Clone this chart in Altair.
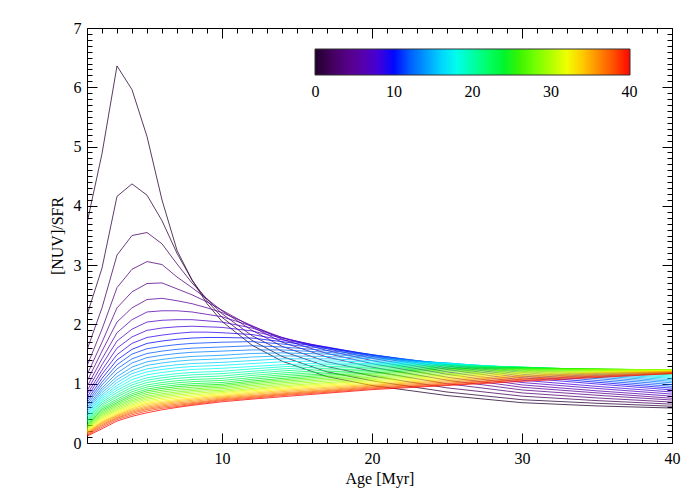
import altair as alt
import pandas as pd

ages = [1, 2, 3, 4, 5, 6, 7, 8, 9, 10, 12, 14, 17, 20, 25, 30, 35, 40]
# Curve parameter (colour-bar value), 0 ... 40
params = list(range(41))

# [NUV]/SFR for parameters 0..40, one list per age
age_01 = [3.71, 2.16, 1.57, 1.30, 1.15, 1.04, 0.95, 0.88, 0.82, 0.77, 0.72,
          0.68, 0.64, 0.60, 0.57, 0.54, 0.51, 0.48, 0.455, 0.43, 0.41,
          0.39, 0.37, 0.35, 0.33, 0.31, 0.295, 0.28, 0.265, 0.25, 0.24,
          0.225, 0.21, 0.20, 0.19, 0.175, 0.165, 0.155, 0.14, 0.13, 0.115]
age_02 = [4.88, 2.95, 2.28, 1.92, 1.70, 1.55, 1.42, 1.32, 1.23, 1.16, 1.09,
          1.03, 0.98, 0.93, 0.89, 0.85, 0.81, 0.78, 0.75, 0.72, 0.69,
          0.66, 0.63, 0.60, 0.575, 0.55, 0.525, 0.50, 0.48, 0.46, 0.44,
          0.42, 0.40, 0.38, 0.36, 0.345, 0.33, 0.31, 0.29, 0.265, 0.24]
age_03 = [6.36, 4.16, 3.17, 2.62, 2.28, 2.04, 1.86, 1.72, 1.60, 1.49, 1.40,
          1.32, 1.25, 1.18, 1.12, 1.07, 1.02, 0.97, 0.93, 0.89, 0.85,
          0.81, 0.78, 0.74, 0.71, 0.68, 0.655, 0.63, 0.605, 0.58, 0.56,
          0.54, 0.52, 0.50, 0.48, 0.465, 0.45, 0.43, 0.415, 0.395, 0.37]
age_04 = [5.96, 4.37, 3.50, 2.93, 2.55, 2.28, 2.08, 1.92, 1.79, 1.68, 1.58,
          1.50, 1.42, 1.35, 1.28, 1.22, 1.17, 1.12, 1.07, 1.02, 0.98,
          0.94, 0.90, 0.865, 0.83, 0.80, 0.77, 0.74, 0.715, 0.69, 0.665,
          0.64, 0.62, 0.60, 0.58, 0.56, 0.54, 0.52, 0.50, 0.475, 0.45]
age_05 = [5.17, 4.18, 3.55, 3.06, 2.69, 2.42, 2.21, 2.04, 1.90, 1.78, 1.68,
          1.59, 1.51, 1.44, 1.37, 1.31, 1.25, 1.20, 1.15, 1.10, 1.06,
          1.02, 0.98, 0.945, 0.91, 0.88, 0.85, 0.82, 0.79, 0.765, 0.74,
          0.715, 0.69, 0.67, 0.65, 0.625, 0.605, 0.585, 0.565, 0.54, 0.51]
age_06 = [4.10, 3.75, 3.36, 3.01, 2.70, 2.44, 2.23, 2.07, 1.94, 1.82, 1.72,
          1.63, 1.55, 1.48, 1.41, 1.35, 1.29, 1.24, 1.19, 1.14, 1.10,
          1.06, 1.02, 0.985, 0.95, 0.92, 0.89, 0.86, 0.83, 0.805, 0.78,
          0.755, 0.73, 0.705, 0.685, 0.665, 0.645, 0.625, 0.605, 0.585, 0.56]
age_07 = [3.25, 3.20, 3.02, 2.80, 2.60, 2.40, 2.23, 2.08, 1.96, 1.85, 1.75,
          1.66, 1.58, 1.51, 1.44, 1.38, 1.32, 1.27, 1.22, 1.17, 1.13,
          1.09, 1.05, 1.015, 0.98, 0.95, 0.92, 0.89, 0.86, 0.835, 0.81,
          0.785, 0.76, 0.735, 0.715, 0.695, 0.675, 0.655, 0.635, 0.615, 0.60]
age_08 = [2.75, 2.75, 2.70, 2.62, 2.50, 2.35, 2.21, 2.08, 1.97, 1.87, 1.77,
          1.68, 1.60, 1.53, 1.46, 1.40, 1.34, 1.29, 1.24, 1.19, 1.15,
          1.11, 1.07, 1.035, 1.00, 0.97, 0.94, 0.91, 0.885, 0.86, 0.835,
          0.81, 0.785, 0.76, 0.74, 0.72, 0.70, 0.68, 0.665, 0.65, 0.635]
age_09 = [2.35, 2.40, 2.43, 2.43, 2.38, 2.28, 2.17, 2.06, 1.96, 1.87, 1.78,
          1.69, 1.61, 1.54, 1.47, 1.41, 1.35, 1.30, 1.25, 1.20, 1.16,
          1.12, 1.08, 1.045, 1.01, 0.98, 0.955, 0.93, 0.905, 0.88, 0.855,
          0.83, 0.81, 0.79, 0.77, 0.75, 0.73, 0.71, 0.695, 0.68, 0.665]
age_10 = [2.05, 2.12, 2.18, 2.23, 2.24, 2.20, 2.13, 2.04, 1.95, 1.86, 1.78,
          1.70, 1.62, 1.55, 1.48, 1.42, 1.36, 1.31, 1.26, 1.21, 1.17,
          1.13, 1.09, 1.055, 1.02, 0.99, 0.965, 0.94, 0.915, 0.89, 0.87,
          0.85, 0.83, 0.81, 0.79, 0.775, 0.76, 0.745, 0.73, 0.715, 0.695]
age_12 = [1.65, 1.73, 1.81, 1.90, 1.96, 1.98, 1.97, 1.94, 1.89, 1.83, 1.77,
          1.71, 1.64, 1.57, 1.51, 1.45, 1.39, 1.34, 1.29, 1.25, 1.21,
          1.175, 1.14, 1.105, 1.075, 1.045, 1.02, 0.995, 0.97, 0.945, 0.92,
          0.90, 0.88, 0.86, 0.84, 0.82, 0.80, 0.785, 0.77, 0.755, 0.74]
age_14 = [1.38, 1.46, 1.55, 1.63, 1.70, 1.75, 1.78, 1.78, 1.77, 1.74, 1.71,
          1.67, 1.62, 1.57, 1.52, 1.47, 1.42, 1.37, 1.32, 1.285, 1.25,
          1.215, 1.18, 1.15, 1.12, 1.09, 1.065, 1.04, 1.015, 0.99, 0.965,
          0.945, 0.925, 0.905, 0.885, 0.865, 0.845, 0.83, 0.815, 0.80, 0.78]
age_17 = [1.12, 1.20, 1.29, 1.37, 1.45, 1.51, 1.56, 1.59, 1.61, 1.62, 1.61,
          1.59, 1.56, 1.53, 1.50, 1.46, 1.42, 1.385, 1.35, 1.32, 1.29,
          1.26, 1.23, 1.20, 1.17, 1.145, 1.12, 1.095, 1.07, 1.045, 1.02,
          1.00, 0.98, 0.96, 0.94, 0.92, 0.90, 0.885, 0.87, 0.855, 0.84]
age_20 = [0.97, 1.05, 1.13, 1.21, 1.28, 1.34, 1.39, 1.43, 1.46, 1.48, 1.49,
          1.49, 1.48, 1.46, 1.44, 1.42, 1.39, 1.365, 1.34, 1.32, 1.30,
          1.28, 1.255, 1.23, 1.205, 1.18, 1.16, 1.135, 1.11, 1.09, 1.07,
          1.05, 1.03, 1.01, 0.99, 0.975, 0.96, 0.945, 0.93, 0.915, 0.90]
age_25 = [0.80, 0.86, 0.93, 1.00, 1.06, 1.11, 1.16, 1.20, 1.24, 1.27, 1.30,
          1.32, 1.33, 1.34, 1.345, 1.35, 1.35, 1.345, 1.34, 1.33, 1.32,
          1.31, 1.30, 1.285, 1.27, 1.255, 1.235, 1.215, 1.195, 1.17, 1.15,
          1.13, 1.11, 1.09, 1.07, 1.05, 1.03, 1.01, 0.995, 0.98, 0.97]
age_30 = [0.68, 0.73, 0.79, 0.845, 0.895, 0.94, 0.98, 1.02, 1.06, 1.10, 1.13,
          1.16, 1.19, 1.21, 1.23, 1.245, 1.255, 1.265, 1.27, 1.275, 1.28,
          1.28, 1.28, 1.275, 1.27, 1.265, 1.255, 1.245, 1.235, 1.22, 1.205,
          1.19, 1.175, 1.16, 1.14, 1.125, 1.11, 1.09, 1.075, 1.06, 1.04]
age_35 = [0.625, 0.67, 0.715, 0.76, 0.805, 0.845, 0.88, 0.92, 0.955, 0.995, 1.025,
          1.055, 1.085, 1.11, 1.135, 1.155, 1.17, 1.185, 1.20, 1.21, 1.22,
          1.23, 1.235, 1.24, 1.245, 1.25, 1.25, 1.245, 1.24, 1.235, 1.225,
          1.215, 1.205, 1.195, 1.185, 1.175, 1.16, 1.145, 1.13, 1.12, 1.105]
age_40 = [0.59, 0.62, 0.655, 0.69, 0.725, 0.755, 0.79, 0.825, 0.86, 0.895, 0.925,
          0.955, 0.985, 1.015, 1.04, 1.065, 1.09, 1.11, 1.13, 1.15, 1.165,
          1.18, 1.195, 1.205, 1.215, 1.225, 1.23, 1.235, 1.235, 1.235, 1.23,
          1.225, 1.22, 1.215, 1.21, 1.205, 1.20, 1.19, 1.185, 1.175, 1.17]

rows = [age_01, age_02, age_03, age_04, age_05, age_06, age_07, age_08, age_09,
        age_10, age_12, age_14, age_17, age_20, age_25, age_30, age_35, age_40]

# Colour bar (IDL-like rainbow) stops; the end stops sit a hair outside 0..40
# so that the end labels of the colour bar are centred like the others
cbar_values = [-0.05, 1, 2.5, 5, 7.5, 10, 12.5, 15, 17.5, 20, 22.5, 25, 27.5, 30, 32.5, 35, 37.5, 40.05]
cbar_colors = ["#000000", "#2c003c", "#4c006c", "#5a0096", "#4800d0", "#0008ff",
               "#0068ff", "#00b4ff", "#00fff8", "#00ffa8", "#00ff50", "#00ee00",
               "#60ff00", "#b0ff00", "#ffff00", "#ffa800", "#ff5800", "#ff0000"]
cbar_labels = [0, 10, 20, 30, 40]

x_major = [10, 20, 30, 40]
x_minor = [v for v in range(2, 40) if v % 10 != 0]
y_major = [0, 1, 2, 3, 4, 5, 6, 7]
y_minor = [round(i / 10, 1) for i in range(1, 70) if i % 10 != 0]

records = []
for a, row in zip(ages, rows):
    for k, v in zip(params, row):
        records.append({"age": a, "k": k, "ratio": v})
df = pd.DataFrame(records).sort_values(["k", "age"]).reset_index(drop=True)

W, H = 585, 415
FONT = "Liberation Serif"

xs = alt.Scale(domain=[1, 40], nice=False, zero=False)
ys = alt.Scale(domain=[0, 7], nice=False, zero=False)

lines = alt.Chart(df).mark_line(strokeWidth=0.9, strokeOpacity=0.85, clip=True).encode(
    x=alt.X("age:Q", scale=xs,
            axis=alt.Axis(orient="bottom", title="Age [Myr]", values=x_major,
                          ticks=False, tickSize=0, domain=False, grid=False,
                          labelPadding=7, titlePadding=4, labelFlush=False,
                          labelFont=FONT, labelFontSize=16, labelColor="black",
                          titleFont=FONT, titleFontSize=16,
                          titleFontWeight="normal", titleColor="black")),
    y=alt.Y("ratio:Q", scale=ys,
            axis=alt.Axis(orient="left", title="[NUV]/SFR", values=y_major,
                          ticks=False, tickSize=0, domain=False, grid=False,
                          labelPadding=6, titlePadding=8,
                          labelFont=FONT, labelFontSize=16, labelColor="black",
                          titleFont=FONT, titleFontSize=16,
                          titleFontWeight="normal", titleColor="black")),
    color=alt.Color("k:Q",
                    scale=alt.Scale(domain=cbar_values, range=cbar_colors),
                    legend=alt.Legend(orient="none", legendX=228, legendY=21,
                                      direction="horizontal", title=None,
                                      gradientLength=315, gradientThickness=26,
                                      values=cbar_labels, labelAlign="center",
                                      labelFont=FONT, labelFontSize=16,
                                      labelColor="black", labelOffset=9,
                                      gradientStrokeColor="#333333",
                                      gradientStrokeWidth=1)),
    detail="k:N",
    order=alt.Order("age:Q"),
)


def tick_layer(x_axis, y_axis):
    return alt.Chart(df).mark_point(opacity=0, size=1).encode(
        x=alt.X("age:Q", scale=xs, axis=x_axis),
        y=alt.Y("ratio:Q", scale=ys, axis=y_axis),
    )


def tick_axis(orient, offset, values, size):
    return alt.Axis(orient=orient, offset=offset, values=values, tickSize=size,
                    labels=False, domain=False, grid=False, title=None,
                    tickColor="black", tickWidth=1)


layers = [
    lines,
    tick_layer(tick_axis("top", -H, x_major, 10), tick_axis("right", -W, y_major, 10)),
    tick_layer(tick_axis("top", -H, x_minor, 5), tick_axis("right", -W, y_minor, 5)),
    tick_layer(tick_axis("bottom", -H, x_major, 10), tick_axis("left", -W, y_major, 10)),
    tick_layer(tick_axis("bottom", -H, x_minor, 5), tick_axis("left", -W, y_minor, 5)),
]

chart = alt.layer(*layers).resolve_axis(x="independent", y="independent").properties(
    width=W, height=H,
    padding={"left": 79, "top": 20, "right": 20, "bottom": 50},
    autosize=alt.AutoSizeParams(type="none"),
    background="white",
).configure_view(stroke="black", strokeWidth=1)

chart.save("out.html", embed_options={"renderer": "svg", "actions": False})
